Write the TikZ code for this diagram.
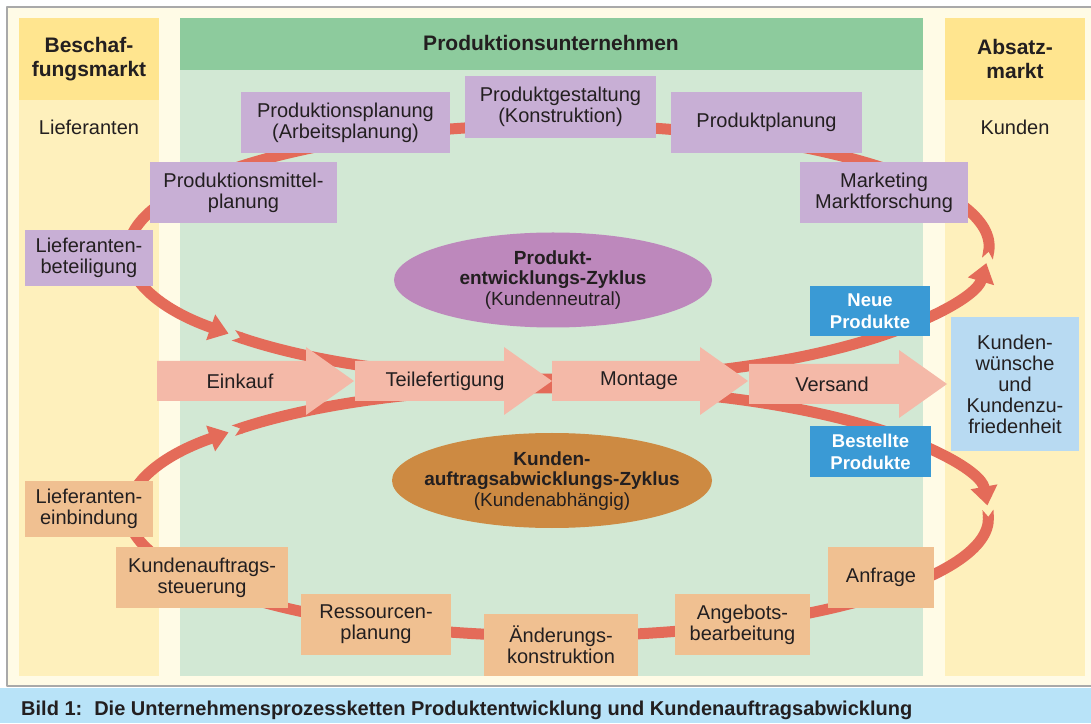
\documentclass[tikz,border=0pt]{standalone}
\usepackage{fontspec}
\setmainfont{Liberation Sans}
\usetikzlibrary{arrows.meta,calc}

\definecolor{cream}{HTML}{FFFBE6}
\definecolor{frame}{HTML}{A9A9A9}
\definecolor{yelhead}{HTML}{FFE58F}
\definecolor{yelbody}{HTML}{FEF0BC}
\definecolor{grnhead}{HTML}{8DCB9D}
\definecolor{grnbody}{HTML}{D2E8D4}
\definecolor{lila}{HTML}{C8AFD5}
\definecolor{sand}{HTML}{F0C091}
\definecolor{lilaoval}{HTML}{BD88BC}
\definecolor{sandoval}{HTML}{CD8A42}
\definecolor{rosa}{HTML}{F4B9A8}
\definecolor{loopred}{HTML}{E46B59}
\definecolor{blau}{HTML}{3A9AD5}
\definecolor{hellblau}{HTML}{B8DAF2}
\definecolor{capblue}{HTML}{B8E3F8}
\definecolor{ink}{HTML}{231F20}

% notched tail for the loop segments
\pgfdeclarearrow{
	name = Kerbe,
	parameters = {\the\pgfarrowlength,\the\pgfarrowwidth},
	setup code = {
		\pgfarrowssettipend{0pt}
		\pgfarrowssetlineend{-\pgfarrowlength}
		\pgfarrowssetbackend{-\pgfarrowlength}
		\pgfarrowssavethe\pgfarrowlength
		\pgfarrowssavethe\pgfarrowwidth
	},
	drawing code = {
		\pgfpathmoveto{\pgfpoint{-\pgfarrowlength-1pt}{0pt}}
		\pgfpathlineto{\pgfpoint{-\pgfarrowlength-1pt}{.5\pgfarrowwidth}}
		\pgfpathlineto{\pgfpoint{0pt}{.5\pgfarrowwidth}}
		\pgfpathlineto{\pgfpoint{-\pgfarrowlength}{0pt}}
		\pgfpathclose
		\pgfpathmoveto{\pgfpoint{-\pgfarrowlength-1pt}{0pt}}
		\pgfpathlineto{\pgfpoint{-\pgfarrowlength-1pt}{-.5\pgfarrowwidth}}
		\pgfpathlineto{\pgfpoint{0pt}{-.5\pgfarrowwidth}}
		\pgfpathlineto{\pgfpoint{-\pgfarrowlength}{0pt}}
		\pgfpathclose
		\pgfusepathqfill
	},
	defaults = {length=6pt, width=11pt}
}

\begin{document}
\begin{tikzpicture}[x=1pt, y=1pt, line join=round, text=ink,
	txt/.style={font=\fontsize{20}{21}\selectfont, align=center, inner sep=0pt},
	head/.style={font=\bfseries\fontsize{21}{24}\selectfont, align=center},
	pbox/.style={txt, fill=lila},
	obox/.style={txt, fill=sand},
	tag/.style={font=\bfseries\fontsize{18.5}{22}\selectfont, align=center, fill=blau, text=white, inner sep=0pt},
	zyklus/.style={font=\fontsize{19}{20.5}\selectfont, align=center},
	kette/.style={draw=loopred, line width=11pt, {Kerbe[length=7pt,width=11pt]}-{Triangle[length=19pt,width=26pt]}}]
	\useasboundingbox (0,0) rectangle (1091,723);
	% frame and caption band
	\fill[white] (0,0) rectangle (1091,723);
	\filldraw[fill=cream, draw=frame, line width=1.5pt] (7,37) rectangle (1110,716);
	\fill[capblue] (0,0) rectangle (1091,35.5);
	% the three columns
	\fill[yelhead] (19,623) rectangle (159,705);
	\fill[yelbody] (19,47) rectangle (159,623);
	\fill[grnhead] (180,653) rectangle (923,705);
	\fill[grnbody] (180,47) rectangle (923,653);
	\fill[yelhead] (945,623) rectangle (1085,705);
	\fill[yelbody] (945,47) rectangle (1085,623);

	% the two loops, upper one counterclockwise, lower one clockwise
	\coordinate (oben) at (558,471);
	\coordinate (unten) at (558,211);
	\coordinate (o-l) at ($(oben)+(-139:430 and 127)$);
	\coordinate (o-r) at ($(oben)+(-3:430 and 127)$);
	\coordinate (u-l) at ($(unten)+(139:430 and 124)$);
	\coordinate (u-r) at ($(unten)+(1:430 and 124)$);
	\draw[kette] (o-l) arc[start angle=-139, end angle=-5, x radius=430, y radius=127];
	\draw[kette] (o-r) arc[start angle=-3, end angle=220, x radius=430, y radius=127];
	\draw[kette] (u-l) arc[start angle=139, end angle=3, x radius=430, y radius=124];
	\draw[kette] (u-r) arc[start angle=1, end angle=-220, x radius=430, y radius=124];

	% process chain in the middle
	\foreach \a/\e/\yc/\tx/\name/\txt in {157/354/342/240/einkauf/Einkauf, 355/552/342/445/teile/Teilefertigung, 552/748/342/639/montage/Montage, 749/947/339/832/versand/Versand}{
		\fill[rosa] (\a,\yc+20) -- (\e-48,\yc+20) -- (\e-48,\yc+34) -- (\e,\yc) -- (\e-48,\yc-34) -- (\e-48,\yc-20) -- (\a,\yc-20) -- cycle;
		\node[txt] (\name) at (\tx,\yc) {\txt};
	}

	\fill[lilaoval] (553,443) ellipse [x radius=159, y radius=47.5];
	\node[zyklus] (entwicklung) at (553,443) {\textbf{Produkt-}\\\textbf{entwicklungs-Zyklus}\\(Kundenneutral)};
	\fill[sandoval] (552,242.5) ellipse [x radius=160, y radius=47.5];
	\node[zyklus] (auftrag) at (552,242) {\textbf{Kunden-}\\\textbf{auftragsabwicklungs-Zyklus}\\(Kundenabhängig)};

	% headings
	\node[head] (beschaffung) at (89,664) {Beschaf-\\fungsmarkt};
	\node[txt] (lieferanten) at (89,596) {Lieferanten};
	\node[head] (unternehmen) at (551,680) {Produktionsunternehmen};
	\node[head] (absatz) at (1015,664) {Absatz-\\markt};
	\node[txt] (kunden) at (1015,596) {Kunden};

	% product development
	\node[pbox, minimum width=209pt, minimum height=61pt] (prodplanung) at (345.5,600.5) {Produktionsplanung\\(Arbeitsplanung)};
	\node[pbox, minimum width=191pt, minimum height=62pt] (gestaltung) at (560.5,616) {Produktgestaltung\\(Konstruktion)};
	\node[pbox, minimum width=191pt, minimum height=61pt] (produktplanung) at (766.5,600.5) {Produktplanung};
	\node[pbox, minimum width=187pt, minimum height=61pt] (mittel) at (243.5,530.5) {Produktionsmittel-\\planung};
	\node[pbox, minimum width=168pt, minimum height=61pt] (marketing) at (884,530.5) {Marketing\\Marktforschung};
	\node[pbox, minimum width=128pt, minimum height=56pt] (beteiligung) at (89,465) {Lieferanten-\\beteiligung};

	% order processing
	\node[obox, minimum width=128pt, minimum height=56pt] (einbindung) at (89,214) {Lieferanten-\\einbindung};
	\node[obox, minimum width=172pt, minimum height=61pt] (steuerung) at (202,145.5) {Kundenauftrags-\\steuerung};
	\node[obox, minimum width=150pt, minimum height=61pt] (ressourcen) at (376,98.5) {Ressourcen-\\planung};
	\node[obox, minimum width=154pt, minimum height=62pt] (aenderung) at (561,78) {Änderungs-\\konstruktion};
	\node[obox, minimum width=135pt, minimum height=61pt] (angebot) at (742.5,98.5) {Angebots-\\bearbeitung};
	\node[obox, minimum width=106pt, minimum height=61pt] (anfrage) at (881,145.5) {Anfrage};

	\node[tag, minimum width=120pt, minimum height=50pt] (neu) at (870,412) {Neue\\Produkte};
	\node[tag, minimum width=121pt, minimum height=51pt] (bestellt) at (870.5,271.5) {Bestellte\\Produkte};
	\node[txt, fill=hellblau, minimum width=128pt, minimum height=134pt] (wuensche) at (1015,339) {Kunden-\\wünsche\\und\\Kundenzu-\\friedenheit};

	\node[anchor=base west, inner sep=0pt, font=\bfseries\fontsize{20}{22}\selectfont] (bild) at (21,8) {Bild 1:\hspace{12pt}Die Unternehmensprozessketten Produktentwicklung und Kundenauftragsabwicklung};
\end{tikzpicture}
\end{document}
